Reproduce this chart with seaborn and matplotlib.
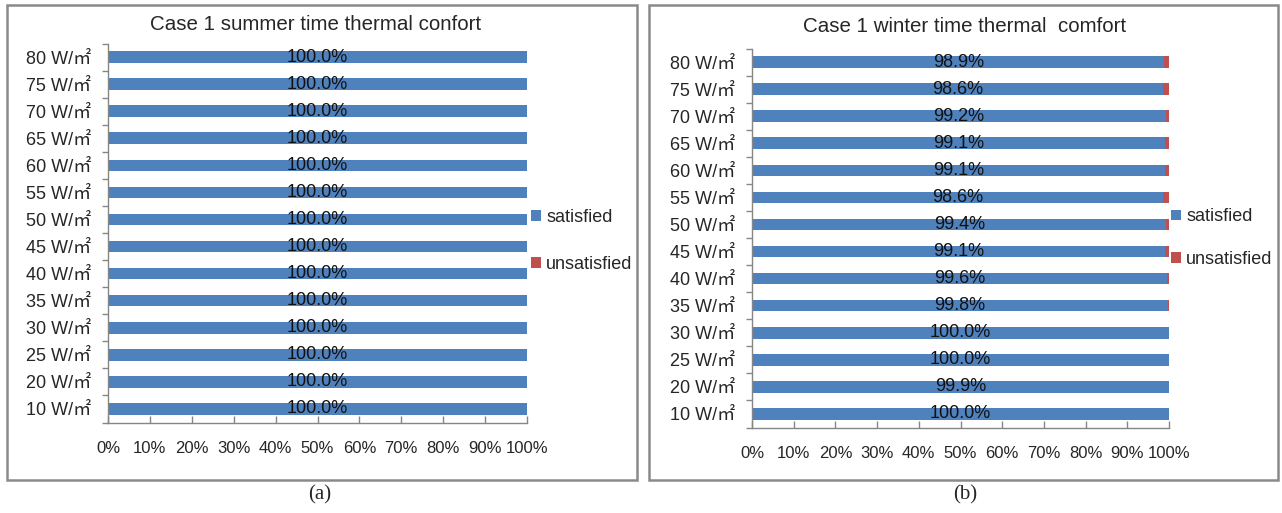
import numpy as np
import pandas as pd
import seaborn as sns
import matplotlib.pyplot as plt
from matplotlib.patches import Rectangle, Patch
from matplotlib.ticker import FixedLocator

sns.set_style("white")
plt.rcParams['font.family'] = ['Liberation Sans', 'Noto Sans CJK SC', 'DejaVu Sans']

loads = ["80 W/㎡", "75 W/㎡", "70 W/㎡", "65 W/㎡", "60 W/㎡", "55 W/㎡", "50 W/㎡",
         "45 W/㎡", "40 W/㎡", "35 W/㎡", "30 W/㎡", "25 W/㎡", "20 W/㎡", "10 W/㎡"]
summer_sat = [100.0] * 14
winter_sat = [98.9, 98.6, 99.2, 99.1, 99.1, 98.6, 99.4, 99.1, 99.6, 99.8, 100.0, 100.0, 99.9, 100.0]

titles = ["Case 1 summer time thermal confort", "Case 1 winter time thermal  comfort"]
captions = ["(a)", "(b)"]

BLUE = "#4F81BD"
RED = "#C0504D"
GRAY = "#868686"

fig = plt.figure(figsize=(12.82, 5.13), dpi=100)
W, H = 1282, 513

def fx(px):
    return px / W

def fy(py):
    return 1 - py / H

panels = [
    dict(sat=summer_sat, box=(7, 5, 637, 480), ax=(108, 43.5, 527, 422.5), title=(316, 25),
         cap=(320, 495), leg=(531, 241), spacing=1.65),
    dict(sat=winter_sat, box=(649, 5, 1278, 480), ax=(752, 48.5, 1169, 427.5), title=(965, 27),
         cap=(965, 495), leg=(1171, 238), spacing=1.4),
]

for i, p in enumerate(panels):
    x0, y0, x1, y1 = p["box"]
    fig.patches.append(Rectangle((fx(x0), fy(y1)), fx(x1 - x0), (y1 - y0) / H,
                                 transform=fig.transFigure, fill=False,
                                 edgecolor="#8a8a8a", linewidth=1.8))
    a0, at, a1, ab = p["ax"]
    ax = fig.add_axes([fx(a0), fy(ab), fx(a1 - a0), (ab - at) / H])

    df = pd.DataFrame({"load": loads, "satisfied": p["sat"]})
    df["unsatisfied"] = 100 - df["satisfied"]
    df["total"] = df["satisfied"] + df["unsatisfied"]

    sns.barplot(data=df, y="load", x="total", color=RED, width=0.43,
                saturation=1, ax=ax, orient="h", linewidth=0)
    sns.barplot(data=df, y="load", x="satisfied", color=BLUE, width=0.43,
                saturation=1, ax=ax, orient="h", linewidth=0)
    ax.bar_label(ax.containers[1], labels=[f"{v:.1f}%" for v in df["satisfied"]],
                 label_type="center", fontsize=13, color="#111111")

    ax.set_xlim(0, 100)
    ax.set_ylim(len(loads) - 0.5, -0.5)
    ax.set_xticks(np.arange(0, 101, 10))
    ax.set_xticklabels([f"{v}%" for v in range(0, 101, 10)])
    ax.set_xlabel("")
    ax.set_ylabel("")
    ax.yaxis.set_minor_locator(FixedLocator(np.arange(-0.5, len(loads), 1)))
    ax.tick_params(axis="y", which="major", length=0, labelsize=13, pad=12)
    ax.tick_params(axis="y", which="minor", length=4, color=GRAY, width=1, direction="out", left=True)
    ax.tick_params(axis="x", which="major", length=5, color=GRAY, width=1, direction="in",
                   bottom=True, labelsize=12, pad=13)
    for s in ["top", "right"]:
        ax.spines[s].set_visible(False)
    for s in ["left", "bottom"]:
        ax.spines[s].set_color(GRAY)
        ax.spines[s].set_linewidth(1)

    tx, ty = p["title"]
    fig.text(fx(tx), fy(ty), titles[i], ha="center", va="center", fontsize=14.8)
    cx, cy = p["cap"]
    fig.text(fx(cx), fy(cy), captions[i], ha="center", va="center", fontsize=15,
             family="Liberation Serif")

    lx, ly = p["leg"]
    handles = [Patch(facecolor=BLUE, edgecolor="none", label="satisfied"),
               Patch(facecolor=RED, edgecolor="none", label="unsatisfied")]
    fig.legend(handles=handles, loc="center left", bbox_to_anchor=(fx(lx), fy(ly)),
               frameon=False, fontsize=13, handlelength=0.55, handleheight=0.55,
               handletextpad=0.3, labelspacing=p["spacing"], borderaxespad=0, borderpad=0)

fig.savefig("out.png", dpi=100)
